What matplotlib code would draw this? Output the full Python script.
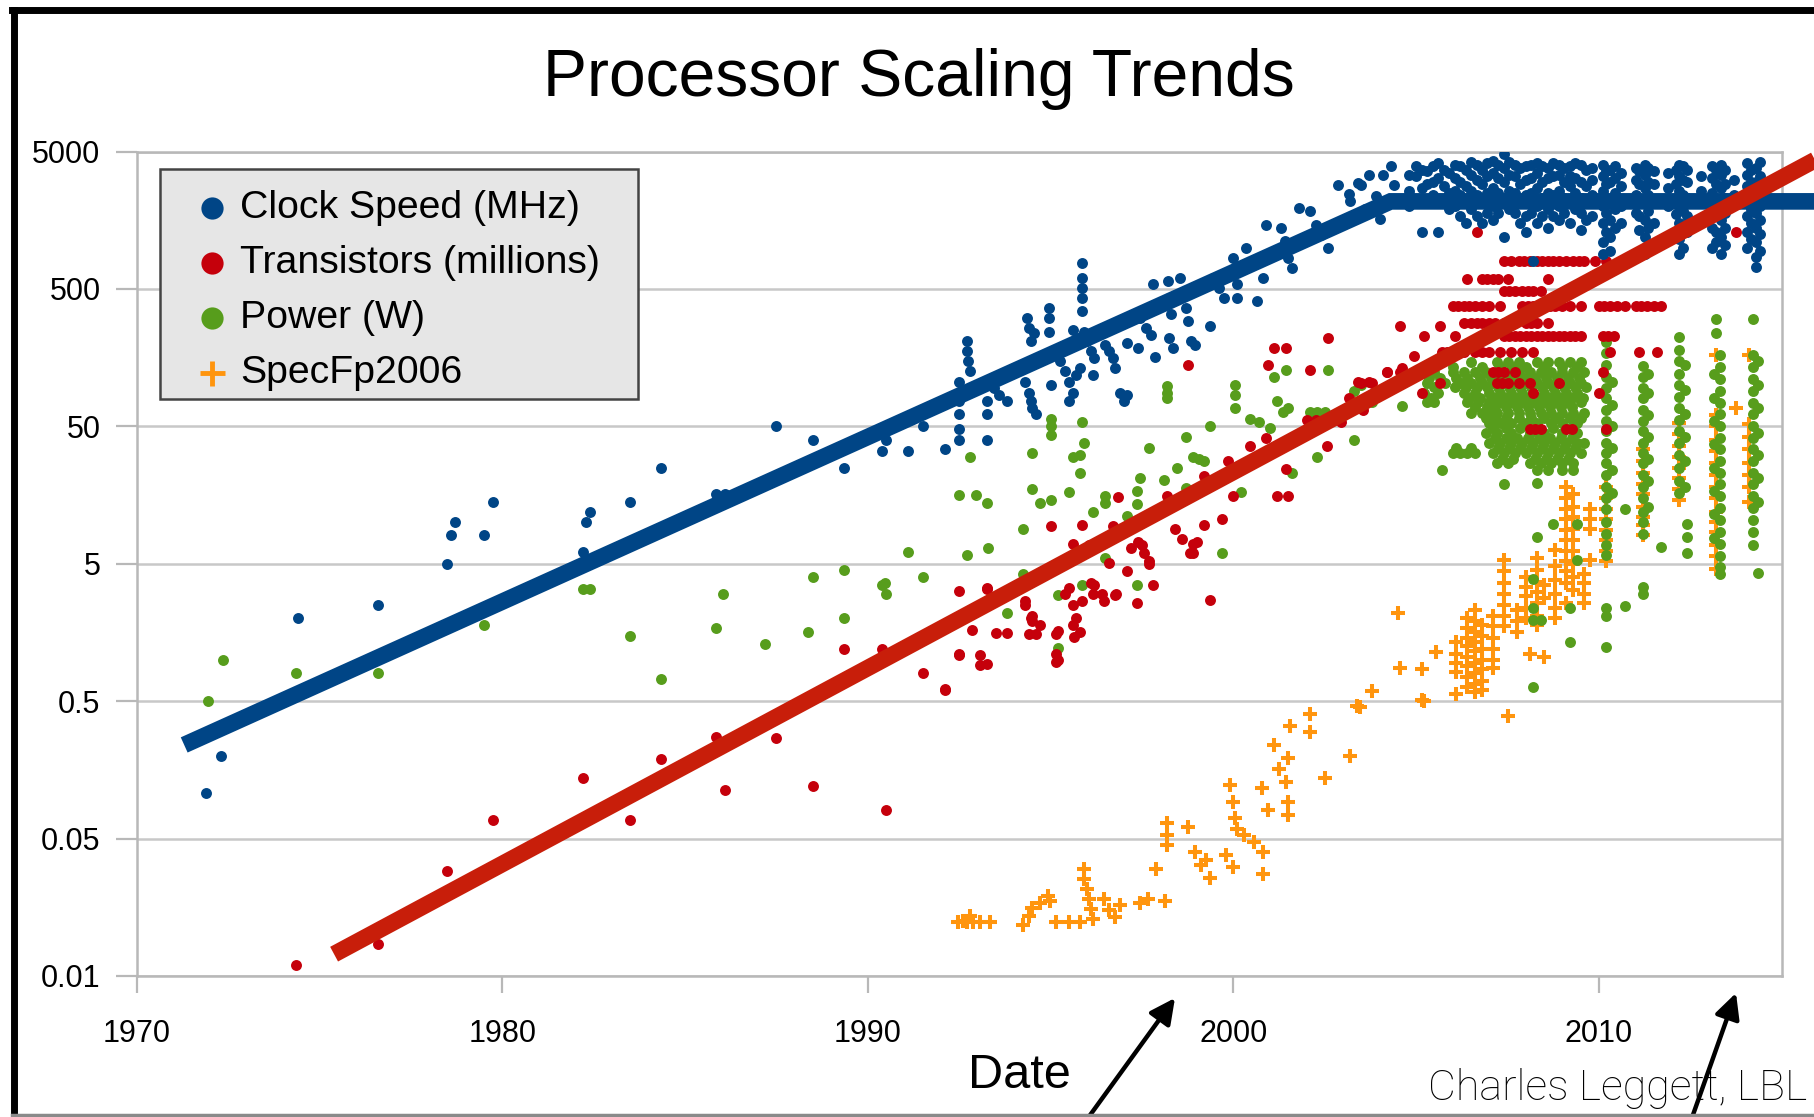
"""Processor scaling trends: clock speed, transistors, power and SpecFP vs date."""

import matplotlib

matplotlib.use("Agg")
import matplotlib.pyplot as plt
from matplotlib.lines import Line2D
from matplotlib.patches import Rectangle
from matplotlib.ticker import NullLocator

plt.rcParams["font.family"] = ["Liberation Sans", "DejaVu Sans"]

# ---- data: (year, value) ----
clock_early = [
    (1971.9, 0.108), (1972.3, 0.2), (1974.4, 2.0), (1976.6, 2.5), (1978.5, 5.0),
    (1978.6, 8.1), (1978.7, 10), (1979.5, 8.1), (1979.75, 14.1), (1982.2, 6.1),
    (1982.3, 10), (1982.4, 12), (1983.5, 14.1), (1984.35, 25), (1985.85, 16.2),
    (1986.1, 16.2), (1987.5, 50), (1988.5, 40), (1989.35, 25), (1990.4, 33),
    (1990.5, 40), (1991.1, 33), (1991.5, 50),
]
clock_1990s = [
    (1992.1, 34), (1992.5, 106), (1992.5, 76), (1992.5, 61), (1992.5, 48), (1992.5, 40),
    (1992.7, 208), (1992.7, 176), (1992.75, 149), (1992.8, 126), (1993.25, 76),
    (1993.25, 61), (1993.25, 40), (1993.45, 95), (1993.6, 85), (1993.8, 76),
    (1994.35, 305), (1994.4, 260), (1994.45, 208), (1994.55, 240), (1994.3, 106),
    (1994.4, 88), (1994.5, 68), (1994.6, 61), (1994.45, 76), (1994.95, 363),
    (1994.95, 305), (1994.95, 245), (1995.0, 100), (1995.25, 149), (1995.4, 126),
    (1995.5, 106), (1995.6, 88), (1995.7, 118), (1995.8, 133), (1995.5, 76),
    (1995.6, 250), (1995.85, 772), (1995.85, 600), (1995.85, 510), (1995.85, 430),
    (1995.85, 344), (1995.9, 245), (1996.0, 208), (1996.1, 176), (1996.2, 157),
    (1996.15, 118), (1996.5, 196), (1996.6, 176), (1996.7, 157), (1996.75, 133),
    (1996.9, 87), (1997.0, 76), (1997.1, 85), (1997.1, 202), (1997.4, 186),
    (1997.45, 305), (1997.6, 260), (1997.75, 232), (1997.8, 540), (1997.85, 161),
    (1998.2, 570), (1998.25, 430), (1998.3, 326), (1998.25, 220), (1998.35, 186),
    (1998.55, 600), (1998.6, 470), (1998.7, 363), (1998.75, 290), (1998.85, 208),
    (1998.95, 197), (1999.35, 267), (1999.45, 600), (1999.6, 510), (1999.75, 430),
    (2000.1, 540), (2000.1, 430), (2000.0, 840), (2000.05, 710), (2000.35, 995),
    (2000.65, 407), (2000.8, 600), (2000.9, 1470), (2001.3, 1390), (2001.4, 1115),
    (2001.5, 840), (2001.6, 710), (2001.8, 1940), (2002.1, 1840), (2002.25, 1470),
    (2002.4, 1245), (2002.6, 995), (2002.85, 2850), (2003.15, 2440), (2003.2, 2170),
    (2003.4, 2960), (2003.5, 2835), (2003.6, 1920), (2003.7, 3350), (2003.9, 2380),
    (2004.0, 1620), (2004.1, 3350), (2004.3, 3950), (2004.4, 2835),
]
clock_2000s = [
    (2004.8, 3400), (2004.8, 2600), (2004.8, 2000), (2005.0, 3900), (2005.0, 3300),
    (2005.15, 1300), (2005.3, 3600), (2005.3, 2900), (2005.3, 2200), (2005.6, 4100),
    (2005.6, 3200), (2005.6, 1300), (2005.9, 3500), (2005.9, 2500), (2005.9, 1900),
    (2006.2, 3900), (2006.2, 3000), (2006.2, 2400), (2006.2, 1700), (2006.5, 4200),
    (2006.5, 3400), (2006.5, 2600), (2006.5, 1900), (2006.8, 3700), (2006.8, 2900),
    (2006.8, 2200), (2006.8, 1500), (2007.1, 4300), (2007.1, 3500), (2007.1, 2700),
    (2007.1, 2000), (2007.1, 1600), (2007.4, 4800), (2007.4, 3800), (2007.4, 3000),
    (2007.4, 2300), (2007.4, 1200), (2007.7, 4000), (2007.7, 3300), (2007.7, 2500),
    (2007.7, 1800), (2008.0, 3900), (2008.0, 3100), (2008.0, 2400), (2008.0, 1700),
    (2008.0, 1300), (2008.2, 800), (2008.3, 4100), (2008.3, 3500), (2008.3, 2700),
    (2008.3, 2000), (2008.3, 1500), (2008.6, 3800), (2008.6, 3200), (2008.6, 2500),
    (2008.6, 1900), (2008.6, 1400), (2008.9, 4000), (2008.9, 3400), (2008.9, 2600),
    (2008.9, 2000), (2008.9, 1600), (2009.2, 3900), (2009.2, 3300), (2009.2, 2800),
    (2009.2, 2100), (2009.2, 1500), (2009.5, 4000), (2009.5, 3000), (2009.5, 2300),
    (2009.5, 1800), (2009.5, 1350), (2009.8, 3800), (2009.8, 3100), (2009.8, 2400),
    (2009.8, 1700), (2010.1, 4000), (2010.1, 3300), (2010.1, 2600), (2010.1, 2000),
    (2010.1, 1500), (2010.1, 1100), (2010.1, 900), (2010.3, 3700), (2010.3, 3000),
    (2010.3, 2200), (2010.3, 1600), (2010.3, 1200), (2010.3, 950), (2010.6, 3500),
    (2010.6, 2800), (2010.6, 2000), (2010.6, 1500), (2011.0, 3800), (2011.0, 3100),
    (2011.0, 2400), (2011.0, 1800), (2011.25, 4000), (2011.25, 3400), (2011.25, 2700),
    (2011.25, 2100), (2011.25, 1600), (2011.25, 1200), (2011.25, 900), (2011.5, 3600),
    (2011.5, 2900), (2011.5, 2200), (2011.5, 1500), (2011.9, 3500), (2011.9, 2700),
    (2011.9, 2000), (2012.2, 4000), (2012.2, 3300), (2012.2, 2600), (2012.2, 2000),
    (2012.2, 1500), (2012.2, 1150), (2012.2, 900), (2012.4, 3700), (2012.4, 3000),
    (2012.4, 2300), (2012.4, 1700), (2012.4, 1300), (2012.8, 3300), (2012.8, 2600),
    (2013.1, 3900), (2013.1, 3200), (2013.1, 2500), (2013.1, 1900), (2013.1, 1400),
    (2013.1, 1000), (2013.35, 4000), (2013.35, 3400), (2013.35, 2700), (2013.35, 2100),
    (2013.35, 1600), (2013.35, 1200), (2013.35, 900), (2013.7, 3100), (2013.7, 2400),
    (2014.05, 4100), (2014.05, 3400), (2014.05, 2800), (2014.05, 2200), (2014.05, 1700),
    (2014.05, 1300), (2014.05, 1000), (2014.3, 3800), (2014.3, 3000), (2014.3, 2300),
    (2014.3, 1800), (2014.3, 1400), (2014.3, 1100), (2014.3, 850), (2014.3, 720),
]
clock_2000s_fill = [
    (2005.15, 3700), (2005.15, 2700), (2005.45, 3900), (2005.45, 3000), (2005.45, 2400),
    (2005.75, 3700), (2005.75, 2800), (2005.75, 2100), (2006.05, 4000), (2006.05, 3200),
    (2006.05, 2600), (2006.05, 2000), (2006.35, 3700), (2006.35, 2800), (2006.35, 2100),
    (2006.35, 1500), (2006.65, 4000), (2006.65, 3100), (2006.65, 2400), (2006.65, 1700),
    (2006.95, 4100), (2006.95, 3300), (2006.95, 2500), (2006.95, 1800), (2007.25, 4000),
    (2007.25, 3200), (2007.25, 2500), (2007.25, 1800), (2007.55, 4200), (2007.55, 3400),
    (2007.55, 2600), (2007.55, 1900), (2007.85, 3800), (2007.85, 2900), (2007.85, 2200),
    (2007.85, 1500), (2008.15, 4000), (2008.15, 3200), (2008.15, 2500), (2008.15, 1800),
    (2008.45, 3900), (2008.45, 3000), (2008.45, 2300), (2008.45, 1700), (2008.75, 4100),
    (2008.75, 3300), (2008.75, 2400), (2008.75, 1700), (2009.05, 3800), (2009.05, 3000),
    (2009.05, 2300), (2009.05, 1800), (2009.35, 4100), (2009.35, 3200), (2009.35, 2500),
    (2009.35, 1900), (2009.65, 3700), (2009.65, 2800), (2009.65, 2100), (2009.65, 1600),
    (2010.2, 3600), (2010.2, 2900), (2010.2, 2300), (2010.2, 1800), (2010.2, 1300),
    (2010.45, 3900), (2010.45, 3200), (2010.45, 2500), (2010.45, 1900), (2010.45, 1400),
    (2011.1, 3600), (2011.1, 2900), (2011.1, 2200), (2011.1, 1700), (2011.1, 1350),
    (2011.35, 3800), (2011.35, 3000), (2011.35, 2400), (2011.35, 1850), (2011.35, 1400),
    (2011.35, 1050), (2012.1, 3700), (2012.1, 2900), (2012.1, 2300), (2012.1, 1750),
    (2012.1, 1300), (2012.3, 3900), (2012.3, 3100), (2012.3, 2400), (2012.3, 1850),
    (2012.3, 1400), (2012.3, 1000), (2013.2, 3700), (2013.2, 2900), (2013.2, 2300),
    (2013.2, 1750), (2013.2, 1300), (2013.2, 1100), (2013.45, 3700), (2013.45, 2900),
    (2013.45, 2300), (2013.45, 1800), (2013.45, 1400), (2013.45, 1050), (2014.15, 3700),
    (2014.15, 3000), (2014.15, 2500), (2014.15, 1900), (2014.15, 1500), (2014.15, 1150),
    (2014.4, 4200), (2014.4, 3300), (2014.4, 2600), (2014.4, 2000), (2014.4, 1600),
    (2014.4, 1250), (2014.4, 950),
]

transistor_early = [
    (1974.35, 0.006), (1976.6, 0.0085), (1978.5, 0.029), (1979.5, 0.029),
    (1979.75, 0.068), (1982.2, 0.137), (1983.5, 0.068), (1984.35, 0.19),
    (1985.85, 0.275), (1986.1, 0.112), (1987.5, 0.27), (1988.5, 0.12),
    (1989.35, 1.2), (1990.4, 1.2), (1990.5, 0.08), (1991.5, 0.8),
]
transistor_1990s = [
    (1992.1, 0.6), (1992.5, 3.15), (1992.5, 1.09), (1992.85, 1.66), (1993.07, 1.09),
    (1993.07, 0.92), (1993.25, 3.35), (1993.5, 1.56), (1993.8, 1.56), (1994.3, 2.7),
    (1994.45, 2.0), (1994.6, 1.53), (1994.5, 1.9), (1995.2, 1.62), (1995.2, 1.0),
    (1995.5, 3.35), (1995.6, 2.5), (1995.7, 2.02), (1995.65, 1.47), (1995.85, 2.67),
    (1996.1, 3.6), (1996.15, 3.0), (1996.45, 2.67), (1996.6, 5.1), (1996.76, 2.98),
    (1997.1, 4.4), (1997.35, 2.6), (1997.7, 5.2), (1997.8, 3.5), (1998.9, 7.0),
    (1998.9, 6.0), (1999.35, 2.73), (1995.6, 7.0), (1997.2, 6.5), (1997.5, 6.8),
    (1993.25, 3.3), (1994.3, 2.5), (1994.5, 2.1), (1994.7, 1.8), (1994.4, 1.55),
    (1995.4, 3.0), (1995.6, 1.8), (1995.8, 1.6), (1996.2, 3.5), (1996.4, 3.0),
    (1996.8, 3.0), (1995.15, 1.55), (1995.15, 1.1), (1995.15, 0.97), (1992.5, 1.1),
    (1993.25, 0.93), (1992.1, 0.61), (1995.0, 9.4), (1995.85, 9.6), (1996.05, 6.9),
    (1996.7, 9.4), (1997.4, 7.2), (1997.55, 6.0), (1997.7, 5.0), (1996.85, 15.4),
    (1998.17, 15.6), (1998.4, 9.0), (1998.6, 7.6), (1998.8, 6.0), (1999.0, 7.2),
    (1999.7, 10.5), (1999.2, 9.6), (1999.2, 21.6), (1999.85, 28), (2000.0, 15.6),
    (2000.45, 36), (2000.9, 41), (2001.2, 15.6), (2001.5, 15.6), (2001.45, 24.6),
    (2002.55, 36), (2002.0, 56), (2002.25, 56), (2002.5, 56), (1998.76, 140),
    (2000.95, 140), (2001.1, 186), (2001.45, 186), (2002.1, 128), (2002.6, 220),
    (2003.4, 106), (2003.7, 106), (2002.95, 54), (2003.15, 80), (2003.55, 66),
    (2003.95, 88), (2004.2, 125), (2004.55, 268), (2004.6, 133), (2004.75, 116),
    (2004.95, 163), (2005.15, 88),
]
transistor_2000s = [
    (2006.65, 1295), (2013.76, 1295),
    (2007.4, 805), (2007.6, 805), (2007.8, 805), (2007.95, 805), (2008.1, 805),
    (2008.3, 805), (2008.45, 805), (2008.6, 805), (2008.75, 805), (2008.9, 805),
    (2009.1, 805), (2009.3, 805), (2009.45, 805), (2009.6, 805), (2009.9, 805),
    (2010.2, 805),
    (2006.4, 590), (2006.8, 590), (2006.95, 590), (2007.1, 590), (2007.25, 590),
    (2007.5, 590), (2008.6, 590),
    (2007.4, 480), (2007.55, 480), (2007.7, 480), (2007.9, 480), (2008.05, 480),
    (2008.2, 480), (2008.4, 480),
    (2006.0, 378), (2006.15, 378), (2006.3, 378), (2006.45, 378), (2006.6, 378),
    (2006.8, 378), (2007.0, 378), (2007.3, 378), (2007.9, 378), (2008.05, 378),
    (2008.2, 378), (2008.35, 378), (2008.5, 378), (2008.65, 378), (2008.8, 378),
    (2009.0, 378), (2009.2, 378), (2009.5, 378), (2010.0, 378), (2010.15, 378),
    (2010.3, 378), (2010.5, 378), (2010.7, 378), (2011.0, 378), (2011.15, 378),
    (2011.3, 378), (2011.5, 378), (2011.7, 378),
    (2006.3, 285), (2006.5, 285), (2006.65, 285), (2006.8, 285), (2007.0, 285),
    (2007.15, 285), (2007.4, 285), (2007.55, 285), (2007.7, 285), (2008.0, 285),
    (2008.15, 285), (2008.3, 285), (2008.6, 285),
    (2005.65, 268),
    (2005.2, 229), (2006.05, 229), (2007.4, 229), (2007.55, 229), (2007.7, 229),
    (2007.85, 229), (2008.0, 229), (2008.15, 229), (2008.3, 229), (2008.45, 229),
    (2008.6, 229), (2008.75, 229), (2008.9, 229), (2009.05, 229), (2009.2, 229),
    (2009.35, 229), (2009.5, 229), (2010.1, 229), (2010.25, 229), (2010.4, 229),
    (2005.7, 173), (2005.85, 173), (2006.0, 173), (2006.3, 173), (2006.6, 173),
    (2006.8, 173), (2007.0, 173), (2007.3, 173), (2007.6, 173), (2007.9, 173),
    (2008.2, 173), (2010.3, 173), (2011.1, 173), (2011.6, 173),
    (2004.2, 124), (2004.55, 124), (2007.1, 124), (2007.25, 124), (2007.4, 124),
    (2007.7, 124), (2010.1, 124),
    (2003.5, 104), (2003.8, 104), (2005.65, 104), (2007.2, 104), (2007.35, 104),
    (2007.5, 104), (2007.8, 104), (2008.1, 104), (2008.9, 104),
    (2008.2, 88), (2010.0, 88),
    (2008.1, 48), (2008.25, 48), (2008.4, 48), (2009.1, 48), (2009.25, 48), (2010.2, 48),
]

power_early = [
    (1971.95, 0.5), (1972.35, 1.0), (1974.35, 0.8), (1976.6, 0.8), (1979.5, 1.8),
    (1982.2, 3.3), (1982.4, 3.3), (1983.5, 1.5), (1984.35, 0.73), (1985.85, 1.7),
    (1986.05, 3.0), (1987.2, 1.31), (1988.35, 1.6), (1988.5, 4.0), (1989.35, 2.0),
    (1989.35, 4.5), (1990.4, 3.5), (1990.5, 3.0), (1990.47, 3.6), (1991.1, 6.1),
    (1991.5, 4.0),
]
power_1990s = [
    (1992.5, 15.9), (1992.97, 15.9), (1993.25, 13.8), (1992.7, 5.8), (1993.3, 6.5),
    (1992.8, 30), (1994.25, 9.0), (1994.5, 32), (1994.5, 17.6), (1994.7, 13.8),
    (1995.0, 14.6), (1995.0, 57), (1995.0, 50), (1995.0, 43), (1995.5, 16.6),
    (1995.6, 30), (1995.8, 31), (1995.8, 23), (1995.85, 54), (1995.9, 38),
    (1996.15, 12.0), (1996.5, 15.6), (1996.5, 13.8), (1997.1, 11.2), (1997.35, 16.8),
    (1997.35, 13.5), (1997.45, 21), (1997.7, 34.5), (1998.1, 20.4), (1998.17, 98),
    (1998.17, 88), (1998.17, 80), (1998.45, 25), (1998.7, 42), (1998.7, 17.8),
    (1998.9, 30), (1999.05, 29), (1999.2, 28), (1999.35, 50), (1999.7, 6.0),
    (2000.05, 100), (2000.05, 85), (2000.05, 68), (2000.2, 16.6), (2000.45, 57),
    (2000.7, 54), (2001.0, 49), (2001.1, 115), (2001.45, 128), (2001.2, 76),
    (2001.35, 64), (2001.5, 68), (2001.6, 23), (2002.3, 30), (2002.1, 64),
    (2002.3, 64), (2002.5, 64), (2002.6, 128), (2003.3, 90), (2003.3, 40),
    (1994.25, 4.2), (1995.2, 2.98), (1995.85, 3.5), (1993.8, 2.2), (1995.2, 1.22),
    (1997.35, 3.5), (1996.5, 5.5), (2003.5, 100), (2003.8, 75), (2004.1, 88),
    (2004.4, 104), (2004.6, 70), (2005.7, 24),
]
power_2000s = [
    (2006.5, 146), (2007.2, 146), (2007.5, 146), (2007.8, 146), (2008.3, 146),
    (2008.6, 146), (2008.9, 146), (2009.2, 146), (2009.5, 146),
    (2005.2, 124), (2005.5, 124), (2006.0, 124), (2006.3, 124), (2006.6, 124),
    (2006.9, 124), (2007.2, 124), (2007.5, 124), (2007.8, 124), (2008.1, 124),
    (2008.4, 124), (2008.7, 124), (2009.0, 124), (2009.3, 124), (2009.6, 124),
    (2005.3, 104), (2005.8, 104), (2006.2, 104), (2006.5, 104), (2006.8, 104),
    (2007.1, 104), (2007.4, 104), (2007.7, 104), (2008.0, 104), (2008.3, 104),
    (2008.6, 104), (2008.9, 104), (2009.2, 104), (2009.5, 104),
    (2005.2, 88), (2005.6, 88), (2006.3, 88), (2006.6, 88), (2007.0, 88),
    (2007.3, 88), (2007.6, 88), (2007.9, 88), (2008.2, 88), (2008.5, 88),
    (2008.8, 88), (2009.1, 88), (2009.4, 88),
    (2005.3, 75), (2005.5, 75), (2006.4, 75), (2006.7, 75), (2007.0, 75),
    (2007.3, 75), (2007.6, 75), (2007.9, 75), (2008.2, 75), (2008.5, 75),
    (2008.8, 75), (2009.1, 75), (2009.5, 75),
    (2006.5, 63), (2006.8, 63), (2007.0, 63), (2007.2, 63), (2007.5, 63),
    (2007.8, 63), (2008.1, 63), (2008.4, 63), (2008.7, 63), (2009.0, 63),
    (2009.3, 63), (2009.6, 63),
    (2007.0, 53), (2007.3, 53), (2007.6, 53), (2008.0, 53), (2008.3, 53),
    (2008.7, 53), (2009.0, 53), (2009.4, 53),
    (2006.9, 45), (2007.2, 45), (2007.6, 45), (2008.1, 45), (2008.5, 45),
    (2009.0, 45), (2009.4, 45),
    (2007.0, 38), (2007.3, 38), (2007.6, 38), (2007.9, 38), (2008.2, 38),
    (2008.5, 38), (2008.8, 38), (2009.1, 38), (2009.4, 38), (2009.6, 38),
    (2006.0, 32), (2006.2, 32), (2006.4, 32), (2006.6, 32), (2007.1, 32),
    (2007.4, 32), (2007.7, 32), (2008.0, 32), (2008.3, 32), (2008.6, 32),
    (2008.9, 32), (2009.2, 32), (2009.5, 32),
    (2007.2, 27), (2007.5, 27), (2008.1, 27), (2008.4, 27), (2008.7, 27),
    (2009.0, 27), (2009.3, 27),
    (2008.3, 24), (2008.6, 24), (2009.0, 24), (2009.3, 24),
    (2007.4, 19), (2008.3, 19.5), (2008.3, 7.8), (2008.75, 9.8), (2008.2, 3.9),
    (2008.2, 2.4), (2008.2, 1.95), (2008.4, 1.95), (2008.2, 0.63), (2009.4, 9.8),
    (2009.4, 5.3), (2009.2, 2.4), (2009.2, 1.35),
]
power_2000s_fill = [
    (2005.4, 135), (2006.0, 135), (2006.8, 135), (2007.3, 135), (2007.7, 135),
    (2008.0, 135), (2008.5, 135), (2009.0, 135), (2009.4, 135),
    (2005.35, 113), (2005.65, 113), (2006.1, 113), (2006.4, 113), (2006.75, 113),
    (2007.05, 113), (2007.35, 113), (2007.65, 113), (2007.95, 113), (2008.25, 113),
    (2008.55, 113), (2008.85, 113), (2009.15, 113), (2009.45, 113),
    (2005.5, 96), (2006.05, 96), (2006.35, 96), (2006.65, 96), (2006.95, 96),
    (2007.25, 96), (2007.55, 96), (2007.85, 96), (2008.15, 96), (2008.45, 96),
    (2008.75, 96), (2009.05, 96), (2009.35, 96), (2009.65, 96),
    (2005.4, 81), (2006.45, 81), (2006.75, 81), (2007.15, 81), (2007.45, 81),
    (2007.75, 81), (2008.05, 81), (2008.35, 81), (2008.65, 81), (2008.95, 81),
    (2009.25, 81), (2009.55, 81),
    (2006.6, 69), (2006.95, 69), (2007.15, 69), (2007.45, 69), (2007.75, 69),
    (2008.05, 69), (2008.35, 69), (2008.65, 69), (2008.95, 69), (2009.25, 69),
    (2006.9, 58), (2007.15, 58), (2007.45, 58), (2007.8, 58), (2008.15, 58),
    (2008.5, 58), (2008.85, 58), (2009.2, 58), (2009.5, 58),
    (2007.1, 49), (2007.45, 49), (2007.85, 49), (2008.3, 49), (2008.75, 49), (2009.2, 49),
    (2007.15, 41), (2007.45, 41), (2007.75, 41), (2008.05, 41), (2008.35, 41),
    (2008.65, 41), (2008.95, 41), (2009.25, 41),
    (2006.1, 35), (2006.5, 35), (2007.25, 35), (2007.55, 35), (2007.85, 35),
    (2008.15, 35), (2008.45, 35), (2008.75, 35), (2009.05, 35), (2009.35, 35),
    (2007.35, 29), (2007.65, 29), (2008.25, 29), (2008.55, 29), (2008.85, 29), (2009.15, 29),
]
power_2010s = [
    (2010.2, 205), (2010.2, 170), (2010.2, 140), (2010.2, 115), (2010.2, 95),
    (2010.2, 80), (2010.2, 66), (2010.2, 55), (2010.2, 46), (2010.2, 38),
    (2010.2, 32), (2010.2, 27), (2010.2, 22), (2010.2, 18), (2010.2, 15),
    (2010.2, 12.5), (2010.2, 10), (2010.2, 8.3), (2010.2, 6.9), (2010.2, 5.8),
    (2010.2, 2.4), (2010.2, 2.1), (2010.2, 1.24), (2010.7, 12.5), (2010.7, 2.45),
    (2010.35, 105), (2010.35, 72), (2010.35, 50), (2010.35, 35), (2010.35, 24),
    (2010.35, 16.5),
    (2011.2, 138), (2011.2, 115), (2011.2, 95), (2011.2, 80), (2011.2, 66),
    (2011.2, 55), (2011.2, 46), (2011.2, 38), (2011.2, 32), (2011.2, 27),
    (2011.2, 22), (2011.2, 18), (2011.2, 15), (2011.2, 12), (2011.2, 10),
    (2011.2, 8.3), (2011.2, 3.4), (2011.2, 3.0), (2011.7, 6.6),
    (2011.35, 120), (2011.35, 88), (2011.35, 60), (2011.35, 42), (2011.35, 29),
    (2011.35, 20), (2011.35, 13),
    (2012.2, 222), (2012.2, 180), (2012.2, 150), (2012.2, 120), (2012.2, 100),
    (2012.2, 82), (2012.2, 68), (2012.2, 56), (2012.2, 46), (2012.2, 38),
    (2012.2, 31), (2012.2, 25), (2012.2, 20), (2012.2, 16.3), (2012.4, 9.8),
    (2012.4, 7.8), (2012.4, 6.0),
    (2012.35, 140), (2012.35, 92), (2012.35, 62), (2012.35, 42), (2012.35, 28), (2012.35, 18),
    (2013.2, 302), (2013.2, 240), (2013.3, 165), (2013.3, 135), (2013.3, 110),
    (2013.3, 90), (2013.3, 74), (2013.3, 61), (2013.3, 50), (2013.3, 41),
    (2013.3, 34), (2013.3, 28), (2013.3, 23), (2013.3, 19), (2013.3, 15.5),
    (2013.3, 12.7), (2013.3, 10.4), (2013.3, 8.5), (2013.3, 7.0), (2013.3, 5.7),
    (2013.3, 4.7), (2013.3, 4.2),
    (2013.15, 120), (2013.15, 80), (2013.15, 55), (2013.15, 37), (2013.15, 25),
    (2013.15, 17), (2013.15, 11.5), (2013.15, 7.7),
    (2014.2, 302), (2014.2, 165), (2014.2, 135), (2014.2, 110), (2014.2, 90),
    (2014.2, 74), (2014.2, 61), (2014.2, 50), (2014.2, 41), (2014.2, 34),
    (2014.2, 28), (2014.2, 23), (2014.2, 19), (2014.2, 15.5), (2014.2, 12.7),
    (2014.2, 10.4), (2014.2, 8.5), (2014.2, 6.9), (2014.35, 4.3),
    (2014.35, 150), (2014.35, 100), (2014.35, 68), (2014.35, 45), (2014.35, 31),
    (2014.35, 21), (2014.35, 14),
]

specfp_1990s = [
    (1992.47, 0.0123), (1992.6, 0.0125), (1992.7, 0.0123), (1992.88, 0.0123),
    (1993.07, 0.0123), (1993.34, 0.0123), (1992.8, 0.0137), (1994.25, 0.0118),
    (1994.4, 0.0137), (1994.5, 0.0155), (1994.7, 0.017), (1994.94, 0.019),
    (1994.98, 0.0175), (1995.15, 0.0123), (1995.5, 0.0123), (1995.8, 0.0123),
    (1995.9, 0.03), (1995.9, 0.0254), (1996.0, 0.0215), (1996.05, 0.0182),
    (1996.1, 0.0154), (1996.15, 0.013), (1996.45, 0.018), (1996.6, 0.015),
    (1996.75, 0.0135), (1996.9, 0.0165), (1997.45, 0.017), (1997.67, 0.018),
    (1998.13, 0.0175), (1997.88, 0.03), (1998.17, 0.0644), (1998.17, 0.053),
    (1998.17, 0.0448), (1998.77, 0.061), (1998.95, 0.04), (1999.1, 0.032),
    (1999.36, 0.0257), (1999.25, 0.035), (1999.9, 0.1226), (2000.0, 0.0926),
    (2000.05, 0.07), (2000.1, 0.059), (1999.8, 0.038), (2000.0, 0.031),
    (2000.3, 0.053), (2000.55, 0.047), (2000.8, 0.04), (2000.8, 0.0277),
    (2000.77, 0.116), (2000.95, 0.081), (2001.1, 0.239), (2001.25, 0.16),
    (2001.45, 0.13), (2001.5, 0.193), (2001.5, 0.093), (2001.5, 0.074),
    (2001.55, 0.33), (2002.1, 0.4), (2002.1, 0.3), (2002.5, 0.137), (2003.2, 0.198),
    (2003.37, 0.46), (2003.8, 0.59), (2003.46, 0.45), (2004.5, 2.19), (2004.55, 0.87),
    (2005.15, 0.85), (2005.15, 0.51), (2005.2, 0.5), (2005.55, 1.13),
]
specfp_2000s = [
    (2006.1, 1.34), (2006.1, 1.1), (2006.1, 0.95), (2006.1, 0.81), (2006.1, 0.56),
    (2006.4, 2.0), (2006.4, 1.7), (2006.4, 1.45), (2006.4, 1.25), (2006.4, 1.05),
    (2006.4, 0.9), (2006.4, 0.75), (2006.4, 0.63), (2006.6, 2.3), (2006.6, 1.9),
    (2006.6, 1.6), (2006.6, 1.35), (2006.6, 1.15), (2006.6, 0.95), (2006.6, 0.8),
    (2006.6, 0.67), (2006.6, 0.58), (2006.8, 1.8), (2006.8, 1.5), (2006.8, 1.2),
    (2006.8, 1.0), (2006.8, 0.85), (2006.8, 0.7), (2006.8, 0.6), (2007.1, 2.1),
    (2007.1, 1.75), (2007.1, 1.45), (2007.1, 1.2), (2007.1, 1.0), (2007.1, 0.87),
    (2007.4, 5.3), (2007.4, 4.4), (2007.4, 3.6), (2007.4, 3.0), (2007.4, 2.5),
    (2007.4, 2.1), (2007.4, 1.75), (2007.5, 0.39), (2007.75, 2.3), (2007.75, 1.9),
    (2007.75, 1.6), (2008.0, 4.0), (2008.0, 3.4), (2008.0, 2.9), (2008.0, 2.4),
    (2008.0, 2.0), (2008.1, 1.1), (2008.3, 5.5), (2008.3, 4.5), (2008.3, 3.7),
    (2008.3, 3.1), (2008.3, 2.6), (2008.3, 2.1), (2008.3, 1.8), (2008.5, 1.05),
    (2008.5, 3.5), (2008.5, 2.8), (2008.8, 6.3), (2008.8, 4.8), (2008.8, 3.8),
    (2008.8, 3.0), (2008.8, 2.4), (2008.8, 2.0), (2009.1, 18), (2009.1, 15),
    (2009.1, 12.5), (2009.1, 10.5), (2009.1, 8.8), (2009.1, 7.4), (2009.1, 6.2),
    (2009.1, 5.2), (2009.1, 4.4), (2009.1, 3.6), (2009.1, 2.6), (2009.3, 16),
    (2009.3, 13), (2009.3, 11), (2009.3, 9), (2009.3, 7.5), (2009.3, 6.2),
    (2009.3, 5), (2009.3, 4), (2009.3, 3.2), (2009.6, 4.2), (2009.6, 3.6),
    (2009.6, 3.0), (2009.6, 2.6), (2009.75, 12.5), (2009.75, 10.5), (2009.75, 9.0),
    (2009.75, 5.3),
]
specfp_2010s = [
    (2010.2, 18), (2010.2, 15), (2010.2, 12.5), (2010.2, 10.5), (2010.2, 8.8),
    (2010.2, 7.4), (2010.2, 6.2), (2010.2, 5.2), (2011.2, 34), (2011.2, 28),
    (2011.2, 23), (2011.2, 19), (2011.2, 16), (2011.2, 13), (2011.2, 11),
    (2011.2, 9.5), (2011.2, 8.1), (2012.2, 53), (2012.2, 44), (2012.2, 36),
    (2012.2, 30), (2012.2, 25), (2012.2, 21), (2012.2, 17.5), (2012.2, 14.5),
    (2013.2, 165), (2013.2, 60), (2013.2, 50), (2013.2, 40), (2013.2, 33),
    (2013.2, 27), (2013.2, 22), (2013.2, 18), (2013.2, 15), (2013.2, 12),
    (2013.2, 10), (2013.2, 8.5), (2013.2, 6.9), (2013.2, 5.7), (2013.2, 4.6),
    (2013.76, 68), (2014.1, 165), (2014.1, 52), (2014.1, 42), (2014.1, 34),
    (2014.1, 27), (2014.1, 22), (2014.1, 18), (2014.1, 14),
]

# hand-drawn trend lines (they run past the plot edge in the original)
clock_trend_years = [1971.3, 2004.3, 2016.5]
clock_trend_mhz = [0.24, 2170, 2170]
transistor_trend_years = [1975.4, 2016.5]
transistor_trend_millions = [0.0072, 5270]

y_ticks = [0.005, 0.05, 0.5, 5, 50, 500, 5000]
y_tick_labels = ["0.01", "0.05", "0.5", "5", "50", "500", "5000"]
x_ticks = [1970, 1980, 1990, 2000, 2010]
series_labels = ["Clock Speed (MHz)", "Transistors (millions)", "Power (W)", "SpecFp2006"]

BLUE = "#004586"
RED = "#c5000b"
GREEN = "#579d1c"
ORANGE = "#ff950e"
GRID = "#b8b8b8"
W, H = 1815, 1117


def split(points):
    return [p[0] for p in points], [p[1] for p in points]


fig = plt.figure(figsize=(W / 100, H / 100), dpi=100)
ax = fig.add_axes([0.0753, 0.1263, 0.9064, 0.7380])

# draw order: SpecFP underneath, then power, transistors, clock
dot = dict(marker="o", s=62, linewidths=0)
sx, sy = split(specfp_1990s + specfp_2000s + specfp_2010s)
ax.scatter(sx, sy, marker="+", s=115, linewidths=2.9, color=ORANGE, zorder=3)
px, py = split(power_early + power_1990s + power_2000s + power_2000s_fill + power_2010s)
ax.scatter(px, py, color=GREEN, zorder=4, **dot)
tx, ty = split(transistor_early + transistor_1990s + transistor_2000s)
ax.scatter(tx, ty, color=RED, zorder=5, **dot)
cx, cy = split(clock_early + clock_1990s + clock_2000s + clock_2000s_fill)
ax.scatter(cx, cy, color=BLUE, zorder=6, **dot)

ax.plot(clock_trend_years, clock_trend_mhz, color=BLUE, lw=12,
        solid_capstyle="butt", solid_joinstyle="miter", clip_on=False, zorder=7)
ax.plot(transistor_trend_years, transistor_trend_millions, color="#c81e0a", lw=12,
        solid_capstyle="butt", clip_on=False, zorder=8)

ax.set_yscale("log")
ax.set_ylim(0.005, 5000)
ax.set_xlim(1970, 2015)
ax.yaxis.set_minor_locator(NullLocator())
ax.set_yticks(y_ticks)
ax.set_yticklabels(y_tick_labels)
ax.set_xticks(x_ticks)
ax.tick_params(axis="y", length=15, width=1.6, color=GRID, pad=11, labelsize=22)
ax.tick_params(axis="x", length=12, width=1.6, color=GRID, pad=19, labelsize=22)
ax.yaxis.grid(True, color="#c8c8c8", lw=1.8)
ax.set_axisbelow(True)
for spine in ax.spines.values():
    spine.set_color(GRID)
    spine.set_linewidth(1.8)

fig.text(0.506, 0.914, "Processor Scaling Trends", ha="center", va="baseline", fontsize=47.5)
fig.text(0.5614, 0.026, "Date", ha="center", va="baseline", fontsize=35)
fig.text(0.996, 0.0155, "Charles Leggett, LBL", ha="right", va="baseline", fontsize=31,
         fontweight="light", family=["Roboto", "Liberation Sans"])

# legend box drawn by hand so the padding matches the original
fig.add_artist(Rectangle((160 / W, 1 - 399 / H), 478 / W, 230 / H, transform=fig.transFigure,
                         facecolor="#e6e6e6", edgecolor="#444444", lw=1.8, zorder=10))
legend_markers = [
    dict(marker="o", ms=16, mew=0, color=BLUE),
    dict(marker="o", ms=16, mew=0, color=RED),
    dict(marker="o", ms=16, mew=0, color=GREEN),
    dict(marker="+", ms=18, mew=3.5, color=ORANGE),
]
row_y = [208, 263, 318, 373]
for label, style, y in zip(series_labels, legend_markers, row_y):
    fig.add_artist(Line2D([212 / W], [1 - y / H], ls="", transform=fig.transFigure,
                          zorder=11, **style))
    fig.text(240 / W, 1 - y / H, label, ha="left", va="center", fontsize=28.3, zorder=11)

# arrows pointing at the axis from below the frame
for tip, tail in [((1175, 119), (1080, -12)), ((1736, 124), (1688, -12))]:
    ax.annotate("", xy=tip, xytext=tail, xycoords="figure pixels",
                textcoords="figure pixels", annotation_clip=False,
                arrowprops=dict(arrowstyle="-|>", lw=3.2, color="black", mutation_scale=38,
                                shrinkA=0, shrinkB=0))

# slide frame
fig.add_artist(Line2D([14 / W, 14 / W], [0, 1 - 10 / H], transform=fig.transFigure,
                      color="black", lw=5))
fig.add_artist(Line2D([12 / W, 1], [1 - 10 / H, 1 - 10 / H], transform=fig.transFigure,
                      color="black", lw=5))
fig.add_artist(Line2D([12 / W, 1], [2 / H, 2 / H], transform=fig.transFigure,
                      color="#8a8a8a", lw=2.5))

fig.savefig("out.png", dpi=100)
